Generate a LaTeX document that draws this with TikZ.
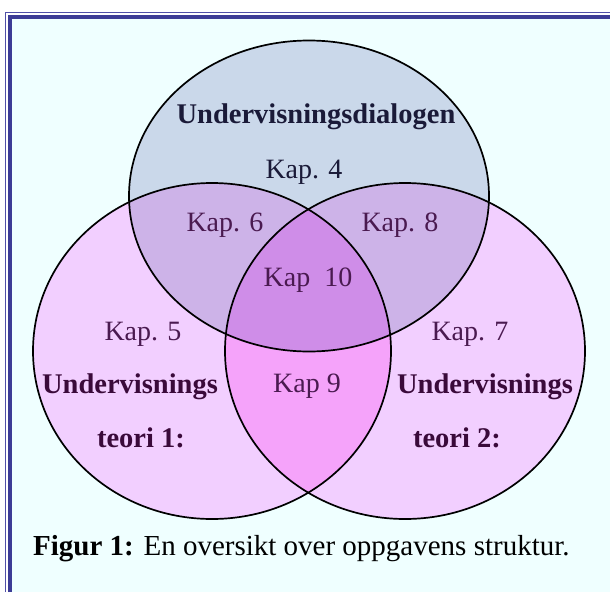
\documentclass[tikz,border=0pt]{standalone}
\usepackage{fontspec}
\setmainfont{Liberation Serif}
\definecolor{bgc}{HTML}{EFFFFF}
\definecolor{framec}{HTML}{3C3C96}
\definecolor{thinc}{HTML}{5050A8}
\definecolor{topc}{HTML}{CAD8EA}
\definecolor{sidec}{HTML}{F2CFFF}
\definecolor{tsc}{HTML}{CDB3E8}
\definecolor{allc}{HTML}{CF8DE8}
\definecolor{lrc}{HTML}{F5A3FA}
\definecolor{navyt}{HTML}{1A1A38}
\definecolor{purpt}{HTML}{4A1A50}
\definecolor{boldt}{HTML}{3A0A3A}
\tikzset{
  lbl/.style={anchor=base, inner sep=0pt, font=\fontsize{28}{32}\selectfont},
  kap/.style={lbl, text=purpt},
  bkap/.style={lbl, text=boldt, font=\fontsize{28.5}{32}\selectfont\bfseries},
  outline/.style={draw=black, line width=1.7pt},
}
\def\Tshape{(309,196) ellipse [x radius=180pt, y radius=155.5pt]}
\def\Lshape{(212,351) ellipse [x radius=179pt, y radius=168pt]}
\def\Rshape{(405,351) ellipse [x radius=180pt, y radius=168pt]}
\begin{document}
\begin{tikzpicture}[x=1pt,y=-1pt]
\useasboundingbox (0,0) rectangle (610,592);
\fill[white] (0,0) rectangle (610,592);
\fill[bgc] (12.4,19.1) rectangle (610,592);
\draw[thinc, line width=1.2pt] (5.5,592) -- (5.5,12.5) -- (610,12.5);
\draw[framec, line width=4.2pt] (10.3,592) -- (10.3,17) -- (610,17);
% fills
\fill[sidec] \Lshape;
\fill[sidec] \Rshape;
\fill[topc] \Tshape;
\begin{scope}\clip \Lshape; \fill[tsc] \Tshape; \end{scope}
\begin{scope}\clip \Rshape; \fill[tsc] \Tshape; \end{scope}
\begin{scope}\clip \Lshape; \fill[lrc] \Rshape; \end{scope}
\begin{scope}\clip \Lshape; \clip \Rshape; \fill[allc] \Tshape; \end{scope}
% outlines
\draw[outline] \Tshape;
\draw[outline] \Lshape;
\draw[outline] \Rshape;
% labels
\node[lbl, text=navyt, font=\fontsize{28.5}{32}\selectfont\bfseries] (dialog) at (316,123) {Undervisningsdialogen};
\node[lbl, text=navyt] (k4) at (304,178) {Kap. 4};
\node[kap] (k6) at (225,231) {Kap. 6};
\node[kap] (k8) at (400,231) {Kap. 8};
\node[kap] (k10) at (308,286) {Kap~~10};
\node[kap] (k9) at (307,392) {Kap 9};
\node[kap] (k5) at (143,340) {Kap. 5};
\node[bkap] (u1) at (130,393) {Undervisnings};
\node[bkap] (t1) at (141,447) {teori 1:};
\node[kap] (k7) at (470,340) {Kap. 7};
\node[bkap] (u2) at (485,393) {Undervisnings};
\node[bkap] (t2) at (457,447) {teori 2:};
\node[lbl, anchor=base west, text=black, font=\fontsize{29}{33}\selectfont] (cap) at (33,555) {\textbf{Figur 1:} En oversikt over oppgavens struktur.};
\end{tikzpicture}
\end{document}
